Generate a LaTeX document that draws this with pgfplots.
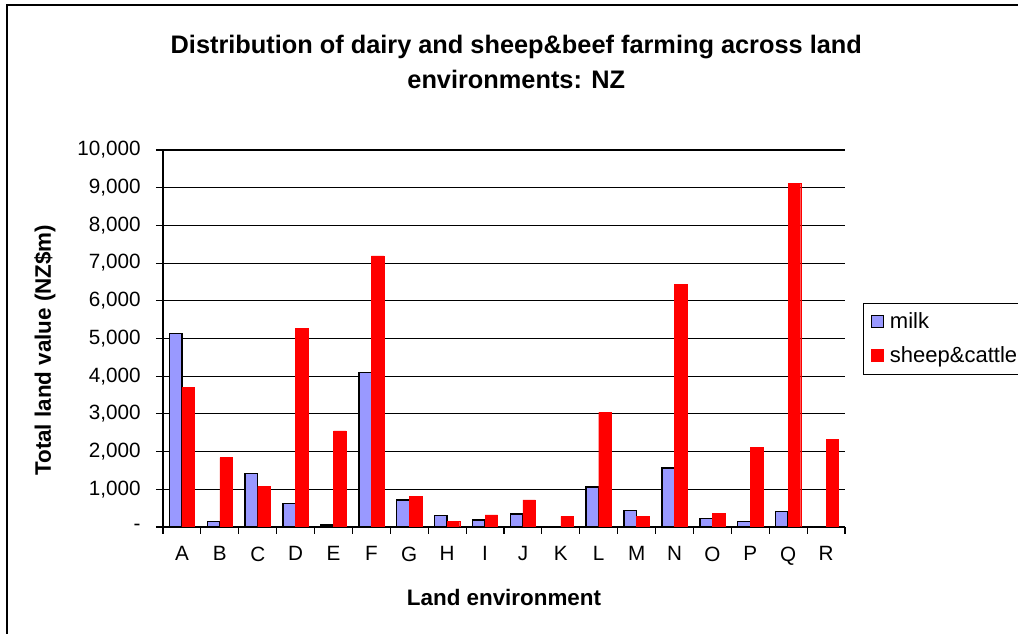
\documentclass[border=0pt]{standalone}
\usepackage{pgfplots}
\pgfplotsset{compat=1.18}
\usepackage{fontspec}
\setmainfont{Liberation Sans}

\definecolor{milkblue}{HTML}{9999FF}
\definecolor{xlred}{HTML}{FF0000}

% land environments A..R at x = 0..17
\pgfplotstableread{
x milk sheep
0  5130 3700
1  140  1840
2  1420 1080
3  620  5270
4  50   2550
5  4100 7190
6  720  810
7  310  150
8  180  320
9  350  720
10 0    280
11 1060 3040
12 440  280
13 1560 6440
14 220  370
15 140  2110
16 410  9120
17 0    2330
}\landdata

\begin{document}
\begin{tikzpicture}
\useasboundingbox (0,0) rectangle (763.5pt,475.5pt);
% outer chart frame
\draw[line width=1.5pt] (5.25pt,-5pt) -- (5.25pt,471.75pt) -- (800pt,471.75pt);
\begin{axis}[
    at={(122.25pt,80.25pt)}, anchor=south west,
    scale only axis,
    width=511.5pt, height=282.75pt,
    ybar=0pt, bar width=9.4pt,
    xmin=-0.5, xmax=17.5,
    ymin=0, ymax=10000,
    scaled y ticks=false,
    axis x line*=bottom, axis y line*=left,
    axis line style={black, line width=0.8pt},
    tick align=outside,
    major tick length=5.25pt,
    xtick={0,...,17},
    xticklabels={A,B,C,D,E,F,G,H,I,J,K,L,M,N,O,P,Q,R},
    xtick style={draw=none},
    extra x ticks={-0.5,0.5,...,17.5},
    extra x tick labels={},
    extra x tick style={xtick style={draw=black, line width=0.8pt}},
    ytick={0,1000,...,10000},
    yticklabels={{-},{1,000},{2,000},{3,000},{4,000},{5,000},{6,000},{7,000},{8,000},{9,000},{10,000}},
    ytick style={black, line width=0.8pt},
    ymajorgrids,
    grid style={black, line width=0.8pt},
    tick label style={font=\fontsize{15.5}{18}\selectfont},
    yticklabel style={xshift=-8pt},
    xticklabel style={yshift=-6pt},
    title={Distribution of dairy and sheep\&beef farming across land\\environments: NZ},
    title style={at={(axis description cs:0.518,1.212)}, anchor=center, align=center,
        font=\fontsize{19}{26.25}\selectfont\bfseries},
    xlabel={Land environment},
    xlabel style={at={(axis description cs:0.5,-0.188)}, anchor=center,
        font=\fontsize{16.8}{20}\selectfont\bfseries},
    ylabel={Total land value (NZ\$m)},
    ylabel style={at={(axis description cs:-0.173,0.469)}, anchor=center, rotate=0,
        font=\fontsize{16.8}{20}\selectfont\bfseries},
    legend style={at={(axis description cs:1.026,0.594)}, anchor=north west,
        draw=black, line width=0.8pt, font=\fontsize{16.5}{19}\selectfont,
        row sep=8pt, inner xsep=4pt, inner ysep=5pt},
    legend cell align=left,
    legend image code/.code={%
        \path[draw=none, fill=none] (0pt,0pt) -- (14pt,0pt);
        \draw[#1, line width=0.8pt] (2.2pt,-4.5pt) rectangle (11.2pt,4.5pt);},
]
\addplot[fill=milkblue, draw=black, line width=1.1pt] table[x=x, y=milk] {\landdata};
\addplot[fill=xlred, draw=xlred, line width=0.3pt] table[x=x, y=sheep] {\landdata};
\legend{milk, sheep\&cattle}
\end{axis}
\end{tikzpicture}
\end{document}
